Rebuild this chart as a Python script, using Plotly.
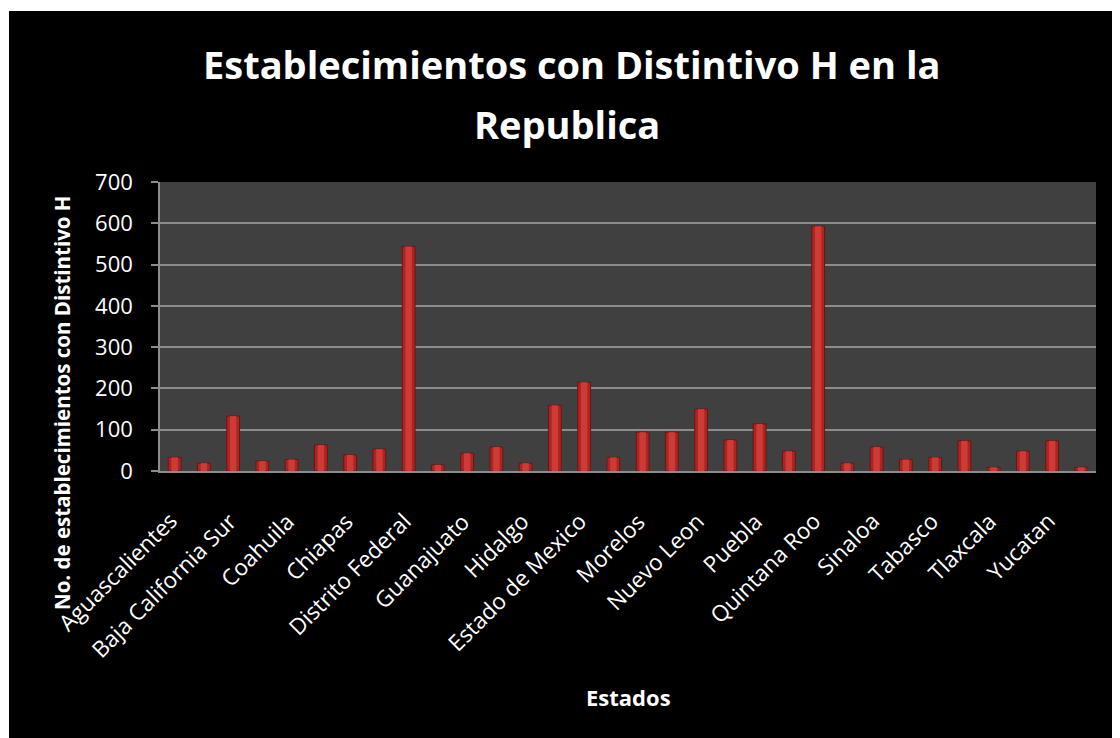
import plotly.graph_objects as go

estados = [
    "Aguascalientes", "Baja California", "Baja California Sur", "Campeche",
    "Coahuila", "Colima", "Chiapas", "Chihuahua", "Distrito Federal", "Durango",
    "Guanajuato", "Guerrero", "Hidalgo", "Jalisco", "Estado de Mexico", "Michoacan",
    "Morelos", "Nayarit", "Nuevo Leon", "Oaxaca", "Puebla", "Queretaro",
    "Quintana Roo", "San Luis Potosi", "Sinaloa", "Sonora", "Tabasco", "Tamaulipas",
    "Tlaxcala", "Veracruz", "Yucatan", "Zacatecas",
]
establecimientos = [33, 19, 133, 24, 28, 63, 39, 53, 544, 15, 43, 58, 19, 159, 215, 33,
                    94, 94, 150, 75, 114, 48, 593, 19, 58, 28, 33, 73, 9, 48, 73, 9]
etiquetas_x = estados[::2]
y_ticks = [0, 100, 200, 300, 400, 500, 600, 700]

# page puts the figure 8px in from the top-left corner
OFF = 8
W, H = 1120, 738
L, R, T, B = 152, 32, 174, 275
pw, ph = W - L - R, H - T - B


def sx(p):
    """screen pixel x -> paper x"""
    return ((p - OFF) - L) / pw


def sy(p):
    """screen pixel y -> paper y"""
    return (H - B - (p - OFF)) / ph


FONT = "'Open Sans', Lato, sans-serif"
GRID = "#8c8c8c"

fig = go.Figure()
# cylinder-like shading: darker body with a lighter core
fig.add_trace(go.Bar(
    x=estados, y=establecimientos, width=0.44,
    marker=dict(color="#A92623", line=dict(color="#6E1412", width=1)),
    showlegend=False, hoverinfo="x+y",
))
fig.add_trace(go.Bar(
    x=estados, y=establecimientos, width=0.22,
    marker=dict(color="#D03A36", line=dict(width=0)),
    showlegend=False, hoverinfo="skip",
))

annotations = [
    dict(text="<b>Establecimientos con Distintivo H en la</b>",
         xref="paper", yref="paper", x=sx(571), y=sy(64),
         xanchor="center", yanchor="middle", showarrow=False,
         font=dict(family=FONT, size=38, color="white")),
    dict(text="<b>Republica</b>",
         xref="paper", yref="paper", x=sx(567), y=sy(124),
         xanchor="center", yanchor="middle", showarrow=False,
         font=dict(family=FONT, size=38, color="white")),
    dict(text="<b>No. de establecimientos con Distintivo H</b>",
         xref="paper", yref="paper", x=sx(62), y=sy(403),
         xanchor="center", yanchor="middle", textangle=-90, showarrow=False,
         font=dict(family=FONT, size=20.5, color="white")),
    dict(text="<b>Estados</b>",
         xref="paper", yref="paper", x=sx(628), y=sy(697),
         xanchor="center", yanchor="middle", showarrow=False,
         font=dict(family=FONT, size=22, color="white")),
]
for lab in etiquetas_x:
    annotations.append(dict(
        text=lab, xref="x", yref="paper", x=lab, y=sy(503),
        xanchor="right", yanchor="top", textangle=-45, xshift=12,
        showarrow=False, font=dict(family=FONT, size=22.5, color="white"),
    ))

fig.update_layout(
    width=W, height=H,
    margin=dict(l=L, r=R, t=T, b=B, pad=0),
    paper_bgcolor="black", plot_bgcolor="#404040",
    barmode="overlay",
    xaxis=dict(
        range=[-0.5, len(estados) - 0.5], autorange=False,
        showticklabels=False, showgrid=False, showline=True,
        linecolor=GRID, linewidth=1.5, ticks="",
    ),
    yaxis=dict(
        range=[0, 700], tickmode="array", tickvals=y_ticks,
        tickfont=dict(family=FONT, size=22, color="white"),
        showgrid=True, gridcolor=GRID, gridwidth=1.5,
        showline=True, linecolor=GRID, linewidth=1.5,
        ticks="outside", ticklen=7, tickcolor=GRID, tickwidth=1.5,
        zeroline=False, ticklabelstandoff=14,
    ),
    annotations=annotations,
    shapes=[
        dict(type="rect", xref="paper", yref="paper", layer="above",
             x0=sx(0), x1=sx(W + OFF), y0=sy(11), y1=sy(0),
             fillcolor="white", line=dict(width=0)),
        dict(type="rect", xref="paper", yref="paper", layer="above",
             x0=sx(0), x1=sx(9), y0=sy(H + OFF), y1=sy(0),
             fillcolor="white", line=dict(width=0)),
    ],
)

fig.write_html("out.html")
